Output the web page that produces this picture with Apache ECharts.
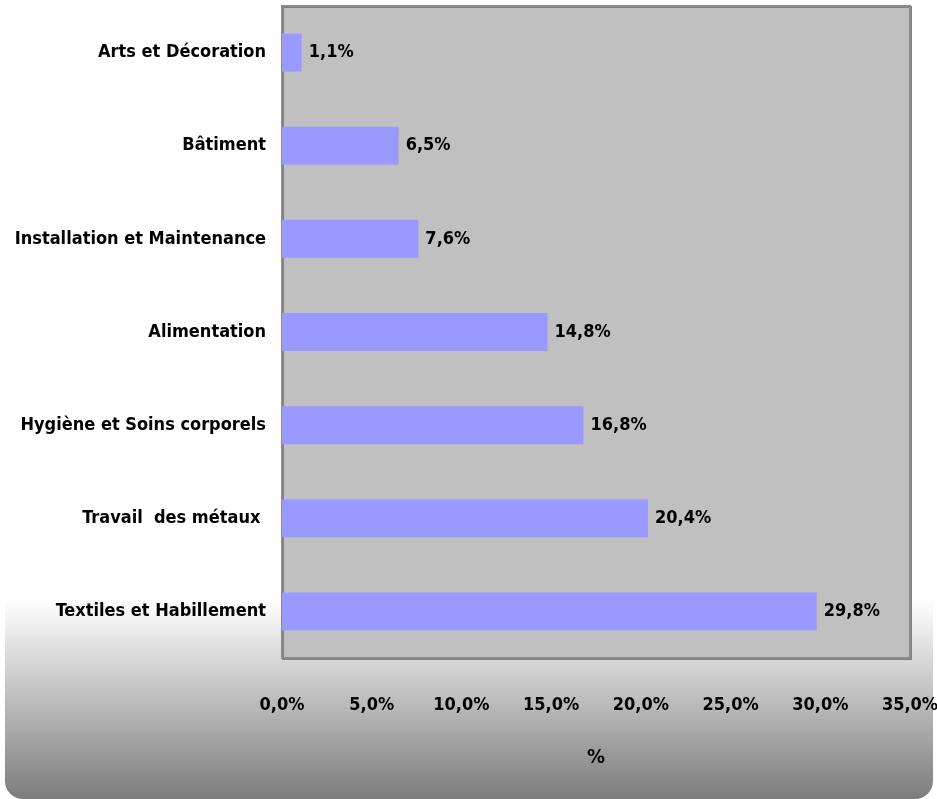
<!DOCTYPE html>
<html>
<head>
<meta charset="utf-8">
<script src="https://cdn.jsdelivr.net/npm/echarts@6/dist/echarts.min.js"></script>
<style>html,body{margin:0;padding:0;background:#fff;}#chart{width:937px;height:799px;}</style>
</head>
<body>
<div id="chart"></div>
<script>
// Categories from bottom to top
var categories = ['Textiles et Habillement', 'Travail  des métaux ', 'Hygiène et Soins corporels', 'Alimentation', 'Installation et Maintenance', 'Bâtiment', 'Arts et Décoration'];
var values = [29.8, 20.4, 16.8, 14.8, 7.6, 6.5, 1.1];
var tickLabels = ['0,0%', '5,0%', '10,0%', '15,0%', '20,0%', '25,0%', '30,0%', '35,0%'];
var axisName = '%';

var FONT = 'DejaVu Sans Condensed';
var chart = echarts.init(document.getElementById('chart'), null, {renderer: 'canvas'});
var fmt = function (v) { return v.toFixed(1).replace('.', ',') + '%'; };
var option = {
  animation: false,
  backgroundColor: '#ffffff',
  graphic: {
    elements: [{
      type: 'rect',
      z: -10,
      silent: true,
      shape: {x: 5, y: -30, width: 928, height: 829, r: [0, 0, 18, 18]},
      style: {
        fill: new echarts.graphic.LinearGradient(0, 0, 0, 1, [
          {offset: 0, color: '#ffffff'},
          {offset: 0.76, color: '#ffffff'},
          {offset: 1, color: '#7c7c7c'}
        ])
      }
    }]
  },
  grid: {
    left: 282, right: 27, top: 6, bottom: 141,
    outerBoundsMode: 'none',
    containLabel: false,
    show: true,
    backgroundColor: '#c0c0c0',
    borderColor: '#8a8a8a',
    borderWidth: 2,
    shadowColor: '#808080',
    shadowOffsetX: 1,
    shadowOffsetY: 1,
    shadowBlur: 0
  },
  xAxis: {
    type: 'value',
    min: 0, max: 35, interval: 5,
    name: axisName,
    nameLocation: 'middle',
    nameGap: 90,
    nameTextStyle: {fontFamily: FONT, fontWeight: 'bold', fontSize: 20, color: '#000', verticalAlign: 'top'},
    axisLine: {show: false},
    axisTick: {show: false},
    splitLine: {show: false},
    axisLabel: {
      margin: 38,
      fontFamily: FONT, fontWeight: 'bold', fontSize: 18, color: '#000',
      formatter: function (v) { return tickLabels[Math.round(v / 5)]; }
    }
  },
  yAxis: {
    type: 'category',
    data: categories,
    axisLine: {show: false},
    axisTick: {show: false},
    splitLine: {show: false},
    axisLabel: {
      margin: 16,
      fontFamily: FONT, fontWeight: 'bold', fontSize: 18, color: '#000'
    }
  },
  series: [{
    type: 'bar',
    data: values,
    barWidth: 38,
    itemStyle: {color: '#9999ff'},
    label: {
      show: true,
      position: 'right',
      distance: 7,
      fontFamily: FONT, fontWeight: 'bold', fontSize: 18, color: '#000',
      formatter: function (p) { return fmt(p.value); }
    }
  }]
};
chart.setOption(option);
</script>
</body>
</html>
